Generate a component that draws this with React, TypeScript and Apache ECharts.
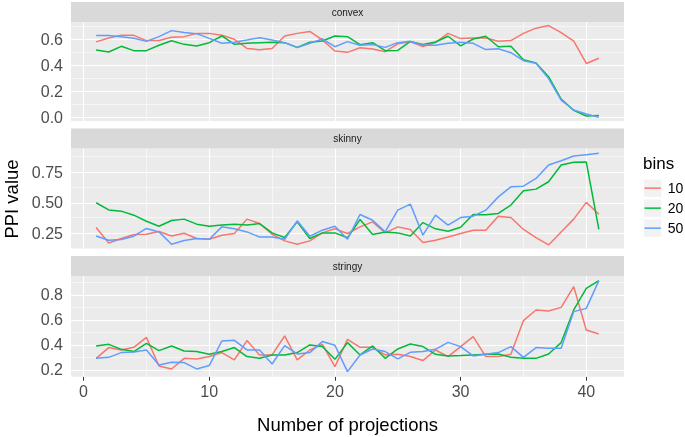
import React, { useEffect, useRef } from "react";
import * as echarts from "echarts";

const projections = [1,2,3,4,5,6,7,8,9,10,11,12,13,14,15,16,17,18,19,20,21,22,23,24,25,26,27,28,29,30,31,32,33,34,35,36,37,38,39,40,41];
const bins = ["10", "20", "50"];
const facets = ["convex", "skinny", "stringy"];

const convex10 = [0.58,0.61,0.63,0.63,0.59,0.59,0.615,0.62,0.645,0.645,0.63,0.60,0.53,0.52,0.53,0.625,0.645,0.66,0.595,0.51,0.50,0.535,0.525,0.505,0.565,0.58,0.545,0.575,0.645,0.605,0.61,0.61,0.585,0.59,0.645,0.685,0.705,0.65,0.585,0.415,0.455];
const convex20 = [0.518,0.503,0.546,0.513,0.513,0.554,0.589,0.561,0.549,0.574,0.625,0.561,0.569,0.574,0.577,0.574,0.538,0.577,0.587,0.625,0.620,0.559,0.574,0.513,0.515,0.584,0.561,0.579,0.623,0.549,0.602,0.623,0.543,0.546,0.444,0.419,0.314,0.143,0.056,0.013,0.018];
const convex50 = [0.628,0.628,0.620,0.607,0.584,0.620,0.666,0.651,0.643,0.607,0.569,0.577,0.594,0.612,0.594,0.574,0.536,0.569,0.602,0.543,0.582,0.554,0.559,0.538,0.574,0.584,0.554,0.554,0.569,0.577,0.569,0.521,0.528,0.497,0.436,0.416,0.299,0.135,0.059,0.028,0.003];

const skinny10 = [0.299,0.173,0.209,0.242,0.244,0.266,0.230,0.252,0.209,0.203,0.236,0.250,0.367,0.331,0.244,0.190,0.163,0.190,0.255,0.288,0.250,0.304,0.345,0.255,0.304,0.283,0.177,0.195,0.222,0.250,0.277,0.277,0.391,0.380,0.283,0.217,0.157,0.263,0.367,0.503,0.407];
const skinny20 = [0.50,0.442,0.432,0.399,0.350,0.309,0.356,0.367,0.326,0.309,0.320,0.326,0.320,0.331,0.255,0.217,0.345,0.209,0.255,0.255,0.215,0.364,0.242,0.263,0.255,0.230,0.339,0.288,0.269,0.301,0.405,0.402,0.413,0.481,0.597,0.611,0.671,0.807,0.829,0.831,0.283];
const skinny50 = [0.230,0.195,0.201,0.228,0.291,0.263,0.163,0.193,0.209,0.203,0.304,0.288,0.263,0.222,0.222,0.203,0.353,0.228,0.277,0.309,0.203,0.405,0.358,0.263,0.440,0.489,0.236,0.399,0.318,0.380,0.391,0.440,0.548,0.630,0.635,0.698,0.807,0.842,0.880,0.891,0.902];

const stringy10 = [0.293,0.379,0.360,0.381,0.461,0.232,0.208,0.293,0.288,0.307,0.339,0.280,0.435,0.320,0.320,0.472,0.280,0.360,0.405,0.227,0.445,0.381,0.381,0.320,0.325,0.307,0.275,0.360,0.307,0.387,0.467,0.307,0.307,0.325,0.595,0.680,0.672,0.701,0.867,0.520,0.488];
const stringy20 = [0.392,0.405,0.365,0.347,0.413,0.355,0.392,0.352,0.347,0.325,0.347,0.379,0.307,0.293,0.320,0.320,0.339,0.400,0.387,0.285,0.419,0.320,0.392,0.293,0.368,0.408,0.387,0.325,0.312,0.315,0.320,0.325,0.328,0.301,0.293,0.293,0.328,0.419,0.680,0.853,0.915];
const stringy50 = [0.293,0.301,0.339,0.344,0.360,0.240,0.261,0.259,0.208,0.235,0.432,0.437,0.360,0.360,0.248,0.395,0.328,0.339,0.427,0.397,0.187,0.320,0.368,0.347,0.288,0.341,0.347,0.365,0.421,0.387,0.312,0.325,0.339,0.387,0.301,0.379,0.373,0.373,0.667,0.693,0.915];

const xTicks = [0, 10, 20, 30, 40];
const xMinor = [5, 15, 25, 35];
const convexTicks = [0, 0.2, 0.4, 0.6];
const convexMinor = [0.1, 0.3, 0.5, 0.7];
const skinnyTicks = [0.25, 0.5, 0.75];
const skinnyMinor = [0.375, 0.625, 0.875];
const stringyTicks = [0.2, 0.4, 0.6, 0.8];
const stringyMinor = [0.3, 0.5, 0.7, 0.9];

const colors = ["#F8766D", "#00BA38", "#619CFF"];
const FONT = "Liberation Sans, Arial, Helvetica, sans-serif";

export default function App() {
  const ref = useRef<HTMLDivElement>(null);
  useEffect(() => {
    if (!ref.current) return;
    const chart = echarts.init(ref.current, null, { renderer: "svg" });

    const seriesValues = [
      [convex10, convex20, convex50],
      [skinny10, skinny20, skinny50],
      [stringy10, stringy20, stringy50],
    ];
    const yTicks = [convexTicks, skinnyTicks, stringyTicks];
    const yMinor = [convexMinor, skinnyMinor, stringyMinor];
    const yDigits = [1, 2, 1];
    const yRange = [[-0.025, 0.732], [0.128, 0.9415], [0.146, 0.952]];
    const layout = [
      { top: 22, height: 99, strip: 2 },
      { top: 148.5, height: 100, strip: 128.5 },
      { top: 276, height: 100.7, strip: 256 },
    ];
    const left = 71;
    const width = 553;

    const grids = layout.map((l) => ({
      left, top: l.top, width, height: l.height,
      show: true, backgroundColor: "#EBEBEB", borderWidth: 0,
    }));

    const xAxes = layout.map((_, i) => ({
      type: "value", gridIndex: i, min: -1, max: 43,
      axisLine: { show: false },
      splitLine: { show: false },
      axisTick: i === 2 ? { show: true, customValues: xTicks, length: 4, lineStyle: { color: "#333333", width: 1 } } : { show: false },
      axisLabel: i === 2 ? { show: true, customValues: xTicks, fontSize: 16, color: "#4D4D4D", margin: 7, fontFamily: FONT } : { show: false },
      name: i === 2 ? "Number of projections" : "",
      nameLocation: "middle",
      nameGap: 38,
      nameTextStyle: { fontSize: 18.5, color: "#000000", fontFamily: FONT },
    }));

    const yAxes = layout.map((_, i) => ({
      type: "value", gridIndex: i, min: yRange[i][0], max: yRange[i][1],
      axisLine: { show: false },
      splitLine: { show: false },
      axisTick: { show: true, customValues: yTicks[i], length: 4, lineStyle: { color: "#333333", width: 1 } },
      axisLabel: {
        show: true, customValues: yTicks[i], fontSize: 16, color: "#4D4D4D", margin: 8, fontFamily: FONT,
        formatter: (v: number) => v.toFixed(yDigits[i]),
      },
    }));

    const series: any[] = [];
    layout.forEach((_, i) => {
      const lines: any[] = [];
      xTicks.forEach((v) => lines.push({ xAxis: v, lineStyle: { width: 1.1 } }));
      xMinor.forEach((v) => lines.push({ xAxis: v, lineStyle: { width: 0.55 } }));
      yTicks[i].forEach((v) => lines.push({ yAxis: v, lineStyle: { width: 1.1 } }));
      yMinor[i].forEach((v) => lines.push({ yAxis: v, lineStyle: { width: 0.55 } }));
      series.push({
        type: "line", name: "grid" + i, xAxisIndex: i, yAxisIndex: i, data: [],
        silent: true, z: 1,
        markLine: {
          silent: true, symbol: ["none", "none"], label: { show: false }, z: 1,
          lineStyle: { type: "solid", color: "#FFFFFF" },
          emphasis: { disabled: true },
          data: lines,
        },
      });
      bins.forEach((b, j) => {
        series.push({
          type: "line", name: b, xAxisIndex: i, yAxisIndex: i,
          data: projections.map((x, k) => [x, seriesValues[i][j][k]]),
          symbol: "none", showSymbol: false, z: 3,
          lineStyle: { width: 1.5, color: colors[j] },
          itemStyle: { color: colors[j] },
          emphasis: { disabled: true },
        });
      });
    });

    const graphic: any[] = [];
    layout.forEach((l, i) => {
      graphic.push({ type: "rect", shape: { x: left, y: l.strip, width, height: 20 }, style: { fill: "#D9D9D9" }, silent: true });
      graphic.push({
        type: "text", x: left + width / 2, y: l.strip + 10,
        style: { text: facets[i], fill: "#1A1A1A", fontSize: 10, fontFamily: FONT, textAlign: "center", textVerticalAlign: "middle" },
        silent: true,
      });
    });
    graphic.push({
      type: "text", x: 11, y: 199, rotation: Math.PI / 2,
      style: { text: "PPI value", fill: "#000000", fontSize: 18.5, fontFamily: FONT, textAlign: "center", textVerticalAlign: "middle" },
      silent: true,
    });
    graphic.push({
      type: "text", x: 643, y: 163,
      style: { text: "bins", fill: "#000000", fontSize: 17, fontFamily: FONT, textAlign: "left", textVerticalAlign: "middle" },
      silent: true,
    });
    bins.forEach((_, j) => {
      graphic.push({ type: "rect", z: -1, shape: { x: 644, y: 179.5 + j * 20, width: 17.3, height: 17.3 }, style: { fill: "#F2F2F2" }, silent: true });
    });

    chart.setOption({
      animation: false,
      grid: grids,
      xAxis: xAxes,
      yAxis: yAxes,
      series,
      legend: {
        data: bins.map((b) => ({ name: b, icon: "rect" })),
        orient: "vertical",
        left: 644.5,
        top: 179.5,
        padding: 0,
        itemWidth: 16.3,
        itemHeight: 1.5,
        itemGap: 2.7,
        selectedMode: false,
        textStyle: { fontSize: 14, lineHeight: 17.3, color: "#000000", fontFamily: FONT, padding: [0, 0, 0, 2] },
      },
      graphic,
    });
    return () => chart.dispose();
  }, []);
  return <div ref={ref} style={{ position: "fixed", left: 0, top: 0, width: 685, height: 437 }} />;
}
